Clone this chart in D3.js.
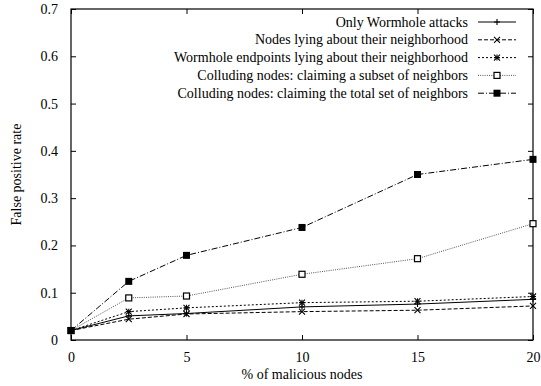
<!DOCTYPE html>
<html>
<head>
<meta charset="utf-8">
<script src="https://cdn.jsdelivr.net/npm/d3@7"></script>
<style>
  body { margin: 0; background: #fff; }
  text { font-family: "Liberation Serif", "Times New Roman", serif; fill: #000; }
</style>
</head>
<body>
<div id="wrapper"></div>
<script>
// data
const xValues = [0, 2.5, 5, 10, 15, 20];
const onlyWormhole = [0.02, 0.051, 0.056, 0.070, 0.076, 0.086];
const nodesLying = [0.02, 0.044, 0.055, 0.060, 0.063, 0.072];
const endpointsLying = [0.02, 0.060, 0.068, 0.079, 0.082, 0.092];
const collSubset = [0.02, 0.089, 0.093, 0.139, 0.172, 0.246];
const collTotal = [0.02, 0.124, 0.179, 0.238, 0.350, 0.382];

const seriesNames = [
    "Only Wormhole attacks",
    "Nodes lying about their neighborhood",
    "Wormhole endpoints lying about their neighborhood",
    "Colluding nodes: claiming a subset of neighbors",
    "Colluding nodes: claiming the total set of neighbors"
];
const xTicks = [0, 5, 10, 15, 20];
const yTicks = [0, 0.1, 0.2, 0.3, 0.4, 0.5, 0.6, 0.7];

function drawChart(parent) {
    const wsvg = 541;
    const hsvg = 386;
    const left = 71, right = 533, top = 9, bottom = 340;
    const fontSize = "14px";

    const svg = d3.select(parent).append("svg")
        .attr("width", wsvg)
        .attr("height", hsvg);

    const xScale = d3.scaleLinear([0, 20], [left, right]);
    const yScale = d3.scaleLinear([0, 0.7], [bottom, top]);

    // frame
    svg.append("rect")
        .attr("x", left).attr("y", top)
        .attr("width", right - left).attr("height", bottom - top)
        .attr("fill", "none").attr("stroke", "#000").attr("stroke-width", 1.2);

    // inward ticks on all sides (gnuplot style)
    const tl = 5;
    const xAxisB = d3.axisBottom(xScale).tickValues(xTicks).tickSize(-tl).tickPadding(tl + 7).tickFormat(d3.format("d"));
    const xAxisT = d3.axisTop(xScale).tickValues(xTicks).tickSize(-tl).tickFormat("");
    const yAxisL = d3.axisLeft(yScale).tickValues(yTicks).tickSize(-tl).tickPadding(tl + 8)
        .tickFormat(d => d === 0 ? "0" : d3.format(".1f")(d));
    const yAxisR = d3.axisRight(yScale).tickValues(yTicks).tickSize(-tl).tickFormat("");

    const axes = [
        [xAxisB, `translate(0,${bottom})`],
        [xAxisT, `translate(0,${top})`],
        [yAxisL, `translate(${left},0)`],
        [yAxisR, `translate(${right},0)`]
    ];
    axes.forEach(([ax, tr]) => {
        const g = svg.append("g").attr("transform", tr).call(ax);
        g.select(".domain").remove();
        g.selectAll("line").attr("stroke", "#000");
        g.selectAll("text")
            .style("font-family", "Liberation Serif")
            .style("font-size", fontSize);
    });

    // axis titles
    svg.append("text")
        .attr("x", (left + right) / 2).attr("y", 379)
        .attr("text-anchor", "middle")
        .style("font-size", fontSize)
        .text("% of malicious nodes");

    svg.append("text")
        .attr("transform", `translate(21,${(top + bottom) / 2}) rotate(-90)`)
        .attr("text-anchor", "middle")
        .style("font-size", fontSize)
        .text("False positive rate");

    const allSeries = [
        { name: seriesNames[0], values: onlyWormhole, dash: null, color: "#000", marker: "plus" },
        { name: seriesNames[1], values: nodesLying, dash: "4,2", color: "#000", marker: "cross" },
        { name: seriesNames[2], values: endpointsLying, dash: "2,2", color: "#000", marker: "star" },
        { name: seriesNames[3], values: collSubset, dash: "1,1.2", color: "#555", marker: "box" },
        { name: seriesNames[4], values: collTotal, dash: "6,2,1,2", color: "#000", marker: "fbox" }
    ];

    const line = d3.line()
        .x(d => xScale(d.x))
        .y(d => yScale(d.y));

    function drawMarker(g, type, cx, cy) {
        const s = 3;
        if (type === "plus" || type === "star") {
            g.append("path").attr("d", `M${cx - s},${cy}H${cx + s}M${cx},${cy - s}V${cy + s}`)
                .attr("stroke", "#000").attr("stroke-width", 1.1);
        }
        if (type === "cross" || type === "star") {
            g.append("path").attr("d", `M${cx - s},${cy - s}L${cx + s},${cy + s}M${cx - s},${cy + s}L${cx + s},${cy - s}`)
                .attr("stroke", "#000").attr("stroke-width", 1.1);
        }
        if (type === "box") {
            g.append("rect").attr("x", cx - 3).attr("y", cy - 3).attr("width", 6).attr("height", 6)
                .attr("fill", "#fff").attr("stroke", "#000").attr("stroke-width", 1.2);
        }
        if (type === "fbox") {
            g.append("rect").attr("x", cx - 3.5).attr("y", cy - 3.5).attr("width", 7).attr("height", 7)
                .attr("fill", "#000");
        }
    }

    allSeries.forEach((s, i) => {
        const pts = xValues.map((x, j) => ({ x: x, y: s.values[j] }));
        const g = svg.append("g");
        g.append("path")
            .datum(pts)
            .attr("d", line)
            .attr("fill", "none")
            .attr("stroke", s.color)
            .attr("stroke-width", 1)
            .attr("stroke-dasharray", s.dash);
        pts.forEach(p => drawMarker(g, s.marker, xScale(p.x), yScale(p.y)));

        // legend
        const ly = 22 + i * 17.8;
        svg.append("text")
            .attr("x", 468).attr("y", ly + 4.5)
            .attr("text-anchor", "end")
            .style("font-size", fontSize)
            .text(s.name);
        svg.append("line")
            .attr("x1", 478).attr("x2", 516).attr("y1", ly).attr("y2", ly)
            .attr("stroke", s.color).attr("stroke-width", 1)
            .attr("stroke-dasharray", s.dash);
        drawMarker(svg.append("g"), s.marker, 497, ly);
    });
}

drawChart(document.querySelector("#wrapper"));
</script>
</body>
</html>
